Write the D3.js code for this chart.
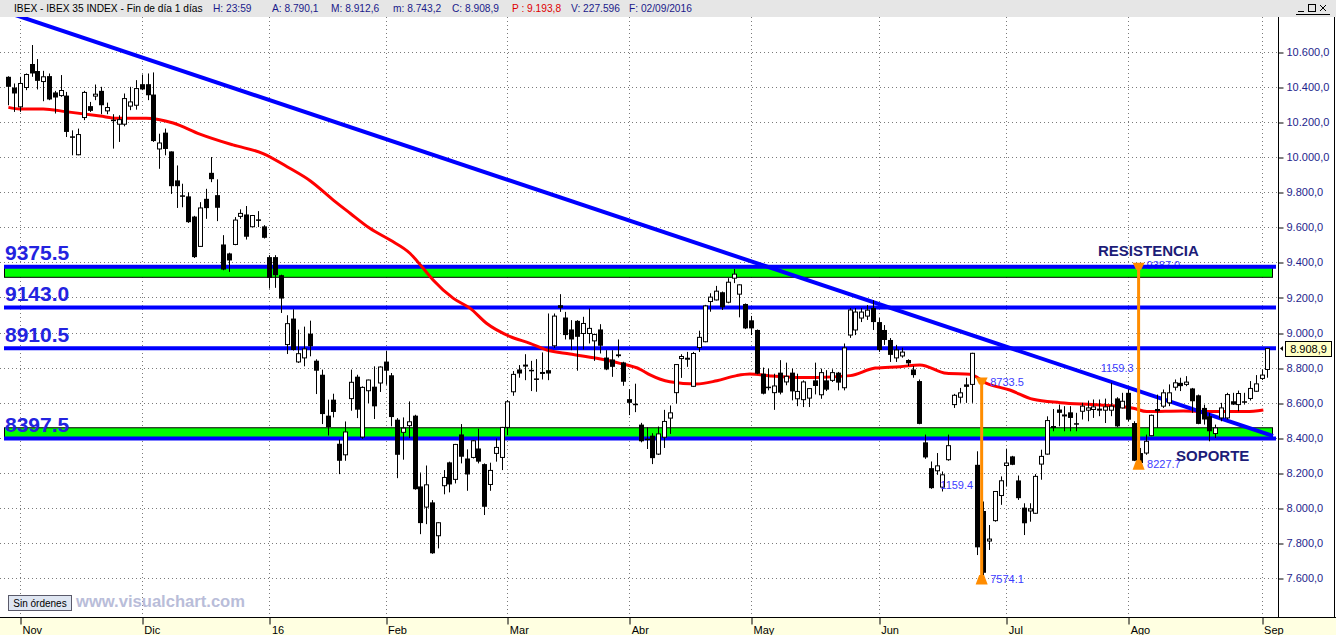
<!DOCTYPE html>
<html><head><meta charset="utf-8">
<script src="https://cdn.jsdelivr.net/npm/d3@7/dist/d3.min.js"></script>
<style>
html,body{margin:0;padding:0;background:#fff;overflow:hidden}
svg{display:block;font-family:"Liberation Sans",Arial,Helvetica,sans-serif}
</style></head><body>
<svg id="chart" width="1336" height="635"></svg>
<script>
// ---------------- DATA ----------------
// daily candles [open, high, low, close], 29 Oct 2015 .. 2 Sep 2016
const candles = [
[10457,10460,10295,10400],[10396,10419,10257,10362],[10286,10457,10257,10419],[10396,10476,10381,10470],
[10530,10638,10457,10476],[10490,10558,10385,10434],[10430,10491,10318,10457],[10461,10476,10324,10328],
[10368,10377,10248,10339],[10350,10467,10343,10379],[10350,10371,10114,10143],[10118,10152,10010,10110],
[10013,10162,10010,10128],[10225,10377,10210,10368],[10290,10314,10257,10263],[10347,10413,10324,10358],
[10377,10400,10244,10295],[10263,10310,10244,10282],[10213,10244,10048,10206],[10187,10238,10086,10213],
[10187,10362,10175,10333],[10290,10400,10267,10314],[10295,10438,10270,10390],[10415,10470,10381,10385],
[10415,10476,10324,10352],[10356,10482,10086,10091],[10046,10133,9933,10080],[10139,10162,10010,10046],
[10032,10032,9790,9834],[9867,9952,9710,9834],[9782,9848,9714,9779],[9776,9800,9625,9629],
[9661,9665,9425,9430],[9491,9743,9491,9710],[9762,9819,9648,9709],[9910,10000,9857,9874],
[9783,9873,9635,9711],[9502,9555,9355,9359],[9451,9455,9346,9411],[9502,9658,9498,9641],
[9662,9702,9648,9679],[9673,9721,9530,9546],[9603,9670,9600,9667],[9645,9692,9601,9641],
[9605,9612,9536,9540],[9430,9441,9251,9312],[9430,9441,9255,9327],[9327,9330,9112,9194],
[8932,9099,8878,9051],[9080,9133,8898,8901],[8833,9017,8827,8880],[8856,9034,8808,8907],
[8994,9068,8865,8922],[8840,8848,8650,8783],[8760,8789,8479,8536],[8527,8618,8414,8462],
[8618,8652,8517,8548],[8367,8390,8194,8270],[8304,8494,8270,8434],[8624,8789,8555,8717],
[8749,8760,8513,8561],[8405,8694,8395,8688],[8669,8732,8599,8730],[8692,8808,8508,8580],
[8713,8808,8662,8804],[8835,8897,8703,8783],[8757,8770,8466,8519],[8504,8513,8171,8304],
[8432,8517,8276,8456],[8470,8608,8399,8492],[8527,8532,8105,8108],[8124,8203,7852,7915],
[8006,8243,7909,8133],[8033,8046,7740,7743],[7843,7920,7771,7917],[8128,8217,8079,8175],
[8261,8265,8090,8135],[8164,8366,8141,8363],[8420,8479,8255,8293],[8283,8335,8099,8192],
[8289,8387,8283,8384],[8340,8452,8255,8265],[8251,8255,7961,8008],[8135,8259,8099,8215],
[8312,8397,8265,8346],[8289,8463,8217,8460],[8460,8616,8416,8606],[8663,8781,8640,8762],
[8790,8815,8743,8767],[8810,8877,8729,8815],[8788,8839,8667,8785],[8739,8849,8663,8733],
[8768,8887,8733,8773],[8786,9109,8729,8767],[8925,9109,8913,9094],[9156,9219,9118,9141],
[9086,9118,8961,8986],[9018,9071,8900,8961],[9067,9071,8783,8976],[8995,9090,8904,9052],
[8995,9137,8938,9024],[8953,8995,8839,8989],[9018,9048,8881,8925],[8858,8900,8786,8790],
[8847,8900,8748,8805],[8876,8961,8858,8866],[8830,8834,8697,8720],[8621,8678,8530,8600],
[8595,8709,8547,8589],[8476,8486,8375,8381],[8396,8461,8337,8392],[8413,8427,8251,8285],
[8308,8465,8303,8423],[8404,8560,8343,8494],[8513,8585,8423,8543],[8658,8820,8595,8818],
[8852,8877,8742,8864],[8850,8890,8805,8854],[8694,8890,8690,8881],[8915,9011,8890,8973],
[8948,9158,8945,9152],[9177,9224,9119,9202],[9186,9266,9183,9236],[9230,9234,9129,9144],
[9173,9310,9167,9287],[9310,9362,9282,9333],[9219,9275,9087,9272],[9163,9166,9020,9024],
[9070,9095,8986,9024],[9015,9018,8763,8766],[8766,8801,8648,8652],[8692,8795,8671,8688],
[8658,8766,8560,8696],[8772,8843,8648,8658],[8719,8829,8700,8751],[8772,8795,8614,8665],
[8623,8766,8581,8665],[8618,8728,8576,8719],[8627,8684,8576,8681],[8728,8829,8648,8696],
[8646,8795,8623,8772],[8728,8786,8667,8675],[8728,8791,8719,8772],[8772,8776,8671,8715],
[8686,8938,8671,8913],[8986,9140,8970,9129],[9015,9140,8986,9117],[9083,9140,9060,9117],
[9094,9157,9072,9128],[9140,9185,9015,9060],[9060,9083,8890,8901],[9015,9043,8930,8958],
[8958,8969,8833,8873],[8856,8930,8833,8901],[8867,8914,8857,8889],[8844,8848,8810,8825],
[8790,8810,8743,8758],[8724,8733,8478,8480],[8375,8419,8281,8289],[8228,8266,8110,8114],
[8213,8314,8190,8241],[8120,8209,8095,8190],[8276,8419,8270,8356],[8590,8651,8571,8643],
[8632,8685,8600,8657],[8705,8743,8600,8691],[8705,8885,8600,8882],[8247,8324,7733,7777],
[7984,8038,7574.1,7632],[7813,7904,7762,7824],[7929,8097,7923,8095],[8072,8181,8019,8156],
[8243,8339,8123,8257],[8295,8298,8245,8247],[8158,8186,8047,8057],[8003,8028,7847,7914],
[7984,8028,7923,7996],[7971,8194,7968,8181],[8251,8333,8162,8295],[8308,8523,8305,8499],
[8460,8565,8438,8465],[8562,8590,8466,8543],[8527,8581,8438,8531],[8546,8581,8438,8514],
[8484,8543,8438,8480],[8552,8600,8505,8581],[8558,8613,8495,8571],[8562,8619,8514,8577],
[8560,8619,8524,8564],[8558,8624,8485,8577],[8558,8714,8524,8581],[8625,8632,8462,8466],
[8571,8657,8568,8609],[8657,8676,8495,8504],[8485,8495,8268,8270],[8314,8343,8227.7,8257],
[8314,8419,8304,8381],[8413,8533,8410,8529],[8565,8647,8457,8552],[8581,8676,8571,8657],
[8600,8705,8581,8657],[8689,8733,8670,8714],[8714,8743,8667,8695],[8705,8752,8695,8718],
[8682,8685,8543,8609],[8643,8647,8478,8480],[8571,8590,8476,8505],[8524,8543,8381,8438],
[8425,8476,8400,8457],[8514,8600,8495,8571],[8514,8657,8505,8647],[8609,8657,8588,8590],
[8590,8670,8552,8653],[8609,8657,8590,8603],[8625,8724,8613,8682],[8666,8758,8662,8708],
[8739,8790,8730,8758],[8790.1,8912.6,8743.2,8908.9]
];
// month start (candle index) and labels
const monthStart  = [2, 23, 45, 65, 86, 107, 128, 150, 172, 193, 216];
const monthLabels = ["Nov","Dic","16","Feb","Mar","Abr","May","Jun","Jul","Ago","Sep"];
// price axis ticks
const yTicks = [7600,7800,8000,8200,8400,8600,8800,9000,9200,9400,9600,9800,10000,10200,10400,10600];
// moving average (red) read at points: candle index / value
const maIdx = [0,2,6,10,15.8,18.7,23.8,28.4,33,38.7,43.9,48.5,52,56,58.9,62.3,65.8,69.2,71.5,73.2,76.7,79.6,82.4,86.5,89.9,92.8,96.8,101.4,105.4,108.9,110.6,114,118.6,122.1,125.5,127.8,131.3,135.9,139.3,145.1,149.4,153.7,157.1,161.7,165.7,168.6,172.6,176.6,181.3,188.1,193.9,196.2,202.5,207.7,213.4,216.3];
const maVal = [10283,10274,10274,10258,10234,10221,10221,10194,10131,10069,10020,9936,9865,9755,9680,9594,9527,9452,9366,9300,9195,9138,9053,8977,8939,8901,8878,8854,8825,8791,8759,8720,8707,8726,8755,8764,8753,8745,8745,8755,8798,8806,8816,8768,8763,8711,8673,8620,8601,8588,8569,8550,8554,8550,8550,8559];
// descending trend line (blue): endpoints index / value
const trendIdx = [0.28, 217.96];
const trendVal = [10819, 8411];
// horizontal levels
const levelValues = [9375.5, 9143.0, 8910.5, 8397.5];
const levelLabels = ["9375.5", "9143.0", "8910.5", "8397.5"];
const resistanceBand = [9315, 9375.5];
const supportBand = [8397.5, 8458];
const zoneLabels = ["RESISTENCIA", "SOPORTE"];
// measured moves (orange)
const measureIdx  = [167.75, 194.8];
const measureLow  = [7574.1, 8227.7];
const measureHigh = [8733.5, 9387.0];
const measureSize = ["1159.4", "1159.3"];
const lastClose = 8908.9;
const headerTexts = ["IBEX - IBEX 35 INDEX - Fin de día 1 días","H: 23:59","A: 8.790,1","M: 8.912,6","m: 8.743,2","C: 8.908,9","P : 9.193,8","V: 227.596","F: 02/09/2016"];

// ---------------- LAYOUT ----------------
const W = 1336, H = 635, plotR = 1278, plotT = 17, plotB = 617;
const svg = d3.select("#chart");
const x = d3.scaleLinear().domain([0, 217]).range([8.4, 1267.4]);
const y = d3.scaleLinear().domain([7600, 10600]).range([578.4, 51.7]);
const fmt = d3.formatLocale({decimal: ",", thousands: ".", grouping: [3], currency: ["", ""]}).format(",.1f");
const px = v => Math.round(v) + 0.5;

svg.append("rect").attr("width", W).attr("height", H).attr("fill", "#fff");
svg.append("defs").append("clipPath").attr("id", "pc")
  .append("rect").attr("x", 0).attr("y", plotT).attr("width", plotR).attr("height", plotB - plotT);
const plot = svg.append("g").attr("clip-path", "url(#pc)");

// grid
plot.append("g").selectAll("line").data(yTicks).join("line")
  .attr("x1", 0).attr("x2", plotR).attr("y1", d => px(y(d))).attr("y2", d => px(y(d)))
  .attr("stroke", "#7a7a7a").attr("stroke-dasharray", "1,3");
plot.append("g").selectAll("line").data(monthStart).join("line")
  .attr("x1", d => px(x(d))).attr("x2", d => px(x(d))).attr("y1", plotT).attr("y2", plotB)
  .attr("stroke", "#7a7a7a").attr("stroke-dasharray", "1,3");

// bands
[resistanceBand, supportBand].forEach(b => {
  plot.append("rect").attr("x", 4.5).attr("width", 1268)
    .attr("y", y(b[1])).attr("height", y(b[0]) - y(b[1]))
    .attr("fill", "#00ff00").attr("stroke", "#000").attr("stroke-width", 1);
});

// label partly hidden under resistance line (9387.0)
const mc = "#3c3cff";
plot.append("text").attr("x", x(measureIdx[1]) + 8).attr("y", y(measureHigh[1]) + 4.5)
  .attr("font-size", 11).attr("fill", mc).text(measureHigh[1].toFixed(1));

// level lines
plot.append("g").selectAll("line").data(levelValues).join("line")
  .attr("x1", 4).attr("x2", 1276).attr("y1", d => y(d)).attr("y2", d => y(d))
  .attr("stroke", "#0000ff").attr("stroke-width", 4);
plot.append("g").selectAll("text").data(levelValues).join("text")
  .attr("x", 5).attr("y", d => y(d) - 6.5).attr("font-size", 21).attr("font-weight", "bold")
  .attr("fill", "#2323e0").text((d, i) => levelLabels[i]);

// moving average
const maPts = maIdx.map((d, i) => [d, maVal[i]]);
plot.append("path").datum(maPts)
  .attr("d", d3.line().x(d => x(d[0])).y(d => y(d[1])).curve(d3.curveMonotoneX))
  .attr("fill", "none").attr("stroke", "#ff0000").attr("stroke-width", 3);

// trend line
plot.append("line").attr("x1", x(trendIdx[0])).attr("y1", y(trendVal[0]))
  .attr("x2", x(trendIdx[1])).attr("y2", y(trendVal[1]))
  .attr("stroke", "#0000ff").attr("stroke-width", 4);

// candles
const cg = plot.append("g");
candles.forEach((c, i) => {
  const [o, h, l, cl] = c;
  const cx = Math.round(x(i));
  cg.append("line").attr("x1", cx + 0.5).attr("x2", cx + 0.5).attr("y1", y(h)).attr("y2", y(l))
    .attr("stroke", "#000").attr("stroke-width", 1);
  const top = y(Math.max(o, cl)), bot = y(Math.min(o, cl));
  if (cl >= o) {
    cg.append("rect").attr("x", cx - 1.5).attr("width", 4).attr("y", top)
      .attr("height", Math.max(1, bot - top)).attr("fill", "#fff").attr("stroke", "#000").attr("stroke-width", 1);
  } else {
    cg.append("rect").attr("x", cx - 2).attr("width", 5).attr("y", top)
      .attr("height", Math.max(1.5, bot - top)).attr("fill", "#000");
  }
});

// measured moves
const oc = "#ff8c00";
measureIdx.forEach((mi, k) => {
  const mx = x(mi), yl = y(measureLow[k]), yh = y(measureHigh[k]);
  plot.append("line").attr("x1", mx).attr("x2", mx).attr("y1", yh).attr("y2", yl)
    .attr("stroke", oc).attr("stroke-width", 3);
  plot.append("path").attr("fill", oc)
    .attr("d", `M${mx-2.5},${yl-8} L${mx+2.5},${yl-8} L${mx+6},${yl+1.5} L${mx-6},${yl+1.5} Z`);
  plot.append("path").attr("fill", oc)
    .attr("d", `M${mx-6},${yh-2} L${mx+6},${yh-2} L${mx+2.5},${yh+5} L${mx-2.5},${yh+5} Z`);
  plot.append("text").attr("x", mx + 8.5).attr("y", yl).attr("font-size", 11).attr("fill", mc)
    .text(measureLow[k].toFixed(1));
  if (k === 0) plot.append("text").attr("x", mx + 8.5).attr("y", yh + 7).attr("font-size", 11).attr("fill", mc)
    .text(measureHigh[k].toFixed(1));
  plot.append("text").attr("x", mx - (k === 0 ? 8.5 : 5)).attr("y", (yl + yh) / 2 + (k === 0 ? 8 : 5.5))
    .attr("text-anchor", "end").attr("font-size", 11).attr("fill", mc).text(measureSize[k]);
});

// zone labels
plot.append("text").attr("x", 1098).attr("y", 255.5).attr("font-size", 15).attr("font-weight", "bold")
  .attr("fill", "#1c1c78").text(zoneLabels[0]);
plot.append("text").attr("x", 1176).attr("y", 460.5).attr("font-size", 15).attr("font-weight", "bold")
  .attr("fill", "#1c1c78").text(zoneLabels[1]);

// watermark / button
plot.append("rect").attr("x", 8.5).attr("y", 595.5).attr("width", 63).attr("height", 15)
  .attr("fill", "#dfe6f2").attr("stroke", "#5a5a6a");
plot.append("text").attr("x", 40).attr("y", 607).attr("text-anchor", "middle").attr("font-size", 10)
  .attr("fill", "#000").text("Sin órdenes");
plot.append("text").attr("x", 76).attr("y", 606.5).attr("font-size", 16).attr("font-weight", "bold")
  .attr("textLength", 169).attr("lengthAdjust", "spacingAndGlyphs")
  .attr("fill", "#b9bdd9").text("www.visualchart.com");

// ---------- right axis ----------
svg.append("rect").attr("x", plotR).attr("y", plotT).attr("width", W - plotR).attr("height", plotB - plotT).attr("fill", "#fff");
const ax = svg.append("g").attr("transform", `translate(${plotR + 0.5},0)`)
  .call(d3.axisRight(y).tickValues(yTicks).tickSize(5).tickPadding(3).tickFormat(fmt));
ax.select(".domain").remove();
ax.selectAll("line").attr("stroke", "#000").attr("transform", d => `translate(0,${px(y(d)) - y(d)})`);
ax.selectAll("text").attr("font-size", 11).attr("fill", "#1e1e8c").attr("font-family", "Liberation Sans, Arial, sans-serif");
svg.append("line").attr("x1", plotR + 0.5).attr("x2", plotR + 0.5).attr("y1", plotT).attr("y2", plotB).attr("stroke", "#000");
svg.append("line").attr("x1", W - 1.5).attr("x2", W - 1.5).attr("y1", plotT).attr("y2", H).attr("stroke", "#000");
// last price box
const ly = y(lastClose);
svg.append("rect").attr("x", 1285.5).attr("y", Math.round(ly) - 7.5).attr("width", 46).attr("height", 15)
  .attr("fill", "#ffffc4").attr("stroke", "#000");
svg.append("text").attr("x", 1308.5).attr("y", Math.round(ly) + 4).attr("text-anchor", "middle")
  .attr("font-size", 11).attr("fill", "#000").text(fmt(lastClose));
svg.append("path").attr("d", `M1280,${ly} L1283,${ly-2.5} L1283,${ly+2.5} Z`).attr("fill", "#000");

// ---------- bottom axis ----------
svg.append("rect").attr("x", 0).attr("y", plotB).attr("width", W).attr("height", H - plotB).attr("fill", "#ffffe1");
const bx = svg.append("g").attr("transform", `translate(0,${plotB + 0.5})`)
  .call(d3.axisBottom(x).tickValues(monthStart).tickSize(7).tickPadding(-3).tickFormat((d, i) => monthLabels[i]));
bx.select(".domain").remove();
bx.selectAll(".tick line").attr("stroke", "#000").attr("transform", d => `translate(${px(x(d)) - x(d)},0)`);
bx.selectAll(".tick text").attr("text-anchor", "start").attr("dx", 2).attr("dy", 0).attr("y", 16)
  .attr("font-size", 11).attr("fill", "#000").attr("font-family", "Liberation Sans, Arial, sans-serif");
svg.append("line").attr("x1", 0).attr("x2", W).attr("y1", plotB + 0.5).attr("y2", plotB + 0.5).attr("stroke", "#000");

// ---------- header ----------
svg.append("rect").attr("x", 0).attr("y", 0).attr("width", W).attr("height", plotT).attr("fill", "#e6e6e6");
const hx = [14, 213, 272, 331, 393, 452, 512, 571, 629];
const hc = ["#000", "#1a1a8a", "#1a1a8a", "#1a1a8a", "#1a1a8a", "#1a1a8a", "#e00000", "#1a1a8a", "#1a1a8a"];
headerTexts.forEach((t, i) => {
  svg.append("text").attr("x", hx[i]).attr("y", 12).attr("font-size", 10.2).attr("fill", hc[i]).text(t);
});
// window buttons
const wb = svg.append("g").attr("stroke", "#000").attr("fill", "none");
wb.append("line").attr("x1", 1298).attr("x2", 1304).attr("y1", 11.5).attr("y2", 11.5);
wb.append("rect").attr("x", 1308.5).attr("y", 4.5).attr("width", 7).attr("height", 7);
wb.append("path").attr("d", "M1320,5 L1326,11 M1326,5 L1320,11");
wb.append("line").attr("x1", 1296).attr("x2", 1330).attr("y1", 14.5).attr("y2", 14.5);
</script>
</body></html>
